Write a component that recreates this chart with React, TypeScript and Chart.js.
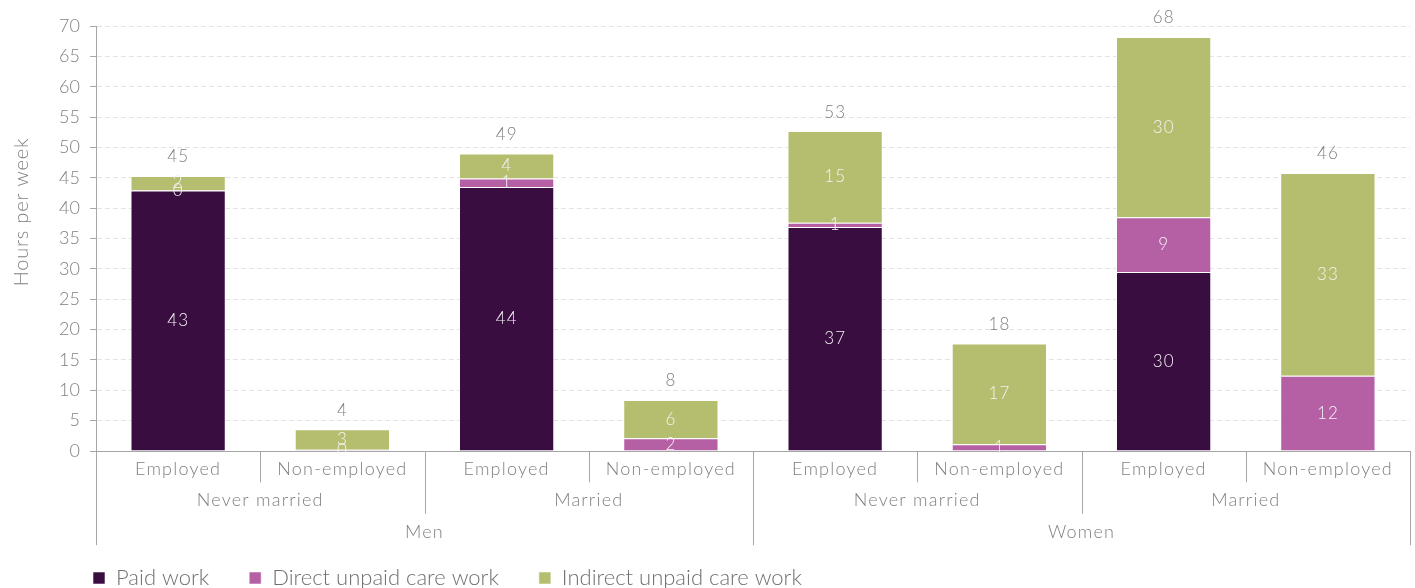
import React, { useEffect, useRef } from "react";
import { Chart, registerables } from "chart.js";

Chart.register(...registerables);

const categories = [
  "Employed",
  "Non-employed",
  "Employed",
  "Non-employed",
  "Employed",
  "Non-employed",
  "Employed",
  "Non-employed",
];
const maritalGroups = ["Never married", "Married", "Never married", "Married"];
const sexGroups = ["Men", "Women"];

const paidWork = [42.9, 0, 43.5, 0, 36.9, 0, 29.5, 0];
const directCare = [0.1, 0.2, 1.4, 2.1, 0.7, 1.1, 9.0, 12.4];
const indirectCare = [2.3, 3.4, 4.1, 6.3, 15.1, 16.6, 29.7, 33.4];

const seriesNames = ["Paid work", "Direct unpaid care work", "Indirect unpaid care work"];
const seriesColors = ["#3a0d41", "#b55fa5", "#b5bd6e"];

const yMin = 0;
const yMax = 70;
const yStep = 5;
const yTitle = "Hours per week";

const FONT = "Lato";
const GRAY = "#7f7f7f";

const valueLabels = {
  id: "valueLabels",
  afterDatasetsDraw(chart: any) {
    const { ctx } = chart;
    ctx.save();
    ctx.textAlign = "center";
    ctx.textBaseline = "middle";
    ctx.font = `300 17px ${FONT}`;
    (ctx as any).letterSpacing = "1px";
    const tops: number[] = [];
    chart.data.datasets.forEach((ds: any, di: number) => {
      const meta = chart.getDatasetMeta(di);
      meta.data.forEach((bar: any, i: number) => {
        const v = ds.data[i];
        const top = Math.min(bar.y, bar.base);
        tops[i] = tops[i] === undefined ? top : Math.min(tops[i], top);
        if (!v) return;
        ctx.fillStyle = "#f4f4f4";
        ctx.fillText(String(Math.round(v)), bar.x, (bar.y + bar.base) / 2);
      });
    });
    const meta0 = chart.getDatasetMeta(0);
    ctx.fillStyle = GRAY;
    meta0.data.forEach((bar: any, i: number) => {
      const total = paidWork[i] + directCare[i] + indirectCare[i];
      ctx.fillText(String(Math.round(total)), bar.x, tops[i] - 19);
    });
    ctx.restore();
  },
};

const multiLevelAxis = {
  id: "multiLevelAxis",
  afterDraw(chart: any) {
    const { ctx, chartArea } = chart;
    const x = chart.scales.x;
    const bottom = chartArea.bottom;
    const n = categories.length;
    const cx = (i: number) => x.getPixelForValue(i);
    const edge = (i: number) =>
      i === 0 ? chartArea.left : i === n ? chartArea.right : (cx(i - 1) + cx(i)) / 2;
    ctx.save();
    ctx.strokeStyle = "#a6a6a6";
    ctx.lineWidth = 1;
    const rowH = 31.4;
    for (let i = 0; i <= n; i++) {
      const depth = i % 4 === 0 ? 3 : i % 2 === 0 ? 2 : 1;
      const px = Math.round(edge(i)) + 0.5;
      ctx.beginPath();
      ctx.moveTo(px, bottom);
      ctx.lineTo(px, bottom + depth * rowH);
      ctx.stroke();
    }
    ctx.fillStyle = GRAY;
    ctx.textAlign = "center";
    ctx.textBaseline = "middle";
    ctx.font = `300 18px ${FONT}`;
    (ctx as any).letterSpacing = "1.2px";
    categories.forEach((c, i) => ctx.fillText(c, cx(i), bottom + 18));
    maritalGroups.forEach((g, j) =>
      ctx.fillText(g, (edge(2 * j) + edge(2 * j + 2)) / 2, bottom + 49)
    );
    sexGroups.forEach((g, k) =>
      ctx.fillText(g, (edge(4 * k) + edge(4 * k + 4)) / 2, bottom + 81)
    );
    // y axis title
    ctx.font = `300 20px ${FONT}`;
    (ctx as any).letterSpacing = "0.8px";
    ctx.translate(22, 212);
    ctx.rotate(-Math.PI / 2);
    ctx.fillText(yTitle, 0, 0);
    ctx.restore();
  },
};

export default function App() {
  const ref = useRef<HTMLCanvasElement | null>(null);
  useEffect(() => {
    if (!ref.current) return;
    const chart = new Chart(ref.current, {
      type: "bar",
      data: {
        labels: categories,
        datasets: [paidWork, directCare, indirectCare].map((d, i) => ({
          label: seriesNames[i],
          data: d,
          backgroundColor: seriesColors[i],
          borderColor: "rgba(255,255,255,0.55)",
          borderWidth: 1,
          categoryPercentage: 1,
          barPercentage: 0.58,
        })),
      },
      options: {
        responsive: false,
        maintainAspectRatio: false,
        animation: false,
        devicePixelRatio: 1,
        layout: { padding: { left: 53, right: 5, top: 26, bottom: 0 } },
        plugins: {
          tooltip: { enabled: false },
          legend: {
            position: "bottom",
            align: "start",
            labels: {
              font: { family: FONT, size: 22, weight: "300" },
              color: "#6f6f6f",
              boxWidth: 12,
              boxHeight: 12,
              padding: 40,
            },
          },
        },
        scales: {
          x: {
            stacked: true,
            grid: { display: false },
            border: { display: true, color: "#a6a6a6" },
            ticks: { display: false },
            afterFit: (s: any) => {
              s.height = 76;
            },
          },
          y: {
            stacked: true,
            min: yMin,
            max: yMax,
            ticks: {
              stepSize: yStep,
              color: GRAY,
              padding: 10,
              font: { family: FONT, size: 18, weight: "300" },
            },
            grid: {
              color: "#e3e3e3",
              tickColor: "#a6a6a6",
              tickLength: 6,
              tickBorderDash: [],
            },
            border: { display: true, color: "#a6a6a6", dash: [] },
            afterFit: (s: any) => {
              s.width = 43;
            },
          },
        },
      },
      plugins: [valueLabels, multiLevelAxis],
    });
    (chart.options.scales as any).y.grid.borderDash = [4, 3];
    (chart.options.scales as any).y.border.dash = [5, 3];
    chart.update();
    return () => chart.destroy();
  }, []);
  return (
    <div
      style={{
        position: "fixed",
        left: 0,
        top: 0,
        width: 1415,
        height: 588,
        overflow: "hidden",
        background: "#fff",
      }}
    >
      <canvas ref={ref} width={1415} height={599} style={{ display: "block" }} />
    </div>
  );
}
